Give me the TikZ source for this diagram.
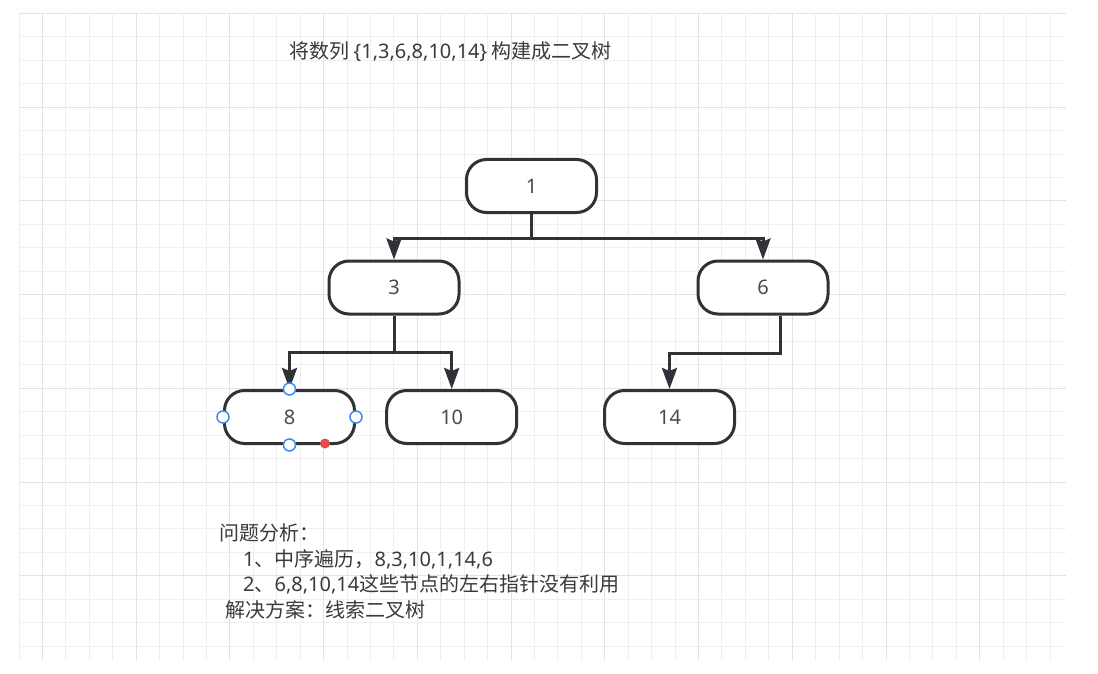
\documentclass[tikz,border=0pt]{standalone}
\usepackage{fontspec}
\setmainfont{Noto Sans CJK SC}
\newfontfamily\latfont{Noto Sans}
\newcommand{\lt}[1]{{\latfont #1}}
\usetikzlibrary{arrows.meta}
\definecolor{gminor}{HTML}{EFEFEF}
\definecolor{gmajor}{HTML}{E3E3E3}
\definecolor{ink}{HTML}{2F3236}
\definecolor{txt}{HTML}{3A3A3A}
\definecolor{ntxt}{HTML}{4A4A4A}
\definecolor{hblue}{HTML}{3B8BF0}
\definecolor{hred}{HTML}{E84A4A}
\tikzset{
  treenode/.style={draw=ink, line width=3pt, rounded corners=20pt, fill=white,
    minimum width=130pt, minimum height=53pt, inner sep=0pt, text=ntxt,
    font=\latfont\fontsize{20}{24}\selectfont},
  link/.style={draw=ink, line width=3pt, -{Stealth[length=21pt,width=15pt,inset=3pt]}},
  handle/.style={circle, draw=hblue, line width=1.5pt, fill=white, minimum size=12pt, inner sep=0pt},
  hdot/.style={circle, fill=hred, minimum size=10pt, inner sep=0pt},
  label/.style={anchor=west, inner sep=0pt, text=txt, font=\fontsize{20}{24}\selectfont}
}
\begin{document}
\begin{tikzpicture}[x=1pt, y=-1pt]
\useasboundingbox (0,0) rectangle (1098,674);
\fill[white] (0,0) rectangle (1098,674);
% grid
\foreach \i in {0,...,44} {
  \pgfmathsetmacro{\xx}{round(18.6+\i*23.43)+0.5}
  \draw[gminor, line width=1.3pt] (\xx,13) -- (\xx,660);
}
\foreach \j in {0,...,27} {
  \pgfmathsetmacro{\yy}{round(13+\j*23.43)+0.5}
  \draw[gminor, line width=1.3pt] (18.6,\yy) -- (1066,\yy);
}
\foreach \i in {1,5,...,41} {
  \pgfmathsetmacro{\xx}{round(18.6+\i*23.43)+0.5}
  \draw[gmajor, line width=1.5pt] (\xx,13) -- (\xx,660);
}
\foreach \j in {0,4,...,27} {
  \pgfmathsetmacro{\yy}{round(13+\j*23.43)+0.5}
  \draw[gmajor, line width=1.5pt] (18.6,\yy) -- (1066,\yy);
}
% title
\node[label, anchor=center] (title) at (450.5,52) {将数列 \lt{\{1,3,6,8,10,14\}} 构建成二叉树};
% tree nodes
\node[treenode] (n1) at (531.5,186) {1};
\node[treenode] (n3) at (394,287.5) {3};
\node[treenode] (n6) at (763,287.5) {6};
\node[treenode] (n8) at (289.5,417) {8};
\node[treenode] (n10) at (451.7,417) {10};
\node[treenode] (n14) at (669.5,417) {14};
% connectors
\draw[link] (n1.south) -- ++(0,24) -| (n3.north);
\draw[link] (n1.south) -- ++(0,24) -| (n6.north);
\draw[link] (n3.south) -- ++(0,37) -| (n8.north);
\draw[link] (n3.south) -- ++(0,37) -| (n10.north);
\draw[link] ([xshift=17pt]n6.south) -- ++(0,37.5) -| (n14.north);
% selection handles on node 8
\node[handle] (h1) at (n8.north) {};
\node[handle] (h2) at (n8.west) {};
\node[handle] (h3) at (n8.east) {};
\node[handle] (h4) at (n8.south) {};
\node[hdot] (h5) at (325,443.5) {};
% analysis text
\node[label] (t1) at (219,533) {问题分析：};
\node[label] (t2) at (243,559) {\lt{1}、中序遍历，\lt{8,3,10,1,14,6}};
\node[label] (t3) at (243,584.5) {\lt{2}、\lt{6,8,10,14}这些节点的左右指针没有利用};
\node[label] (t4) at (225,610) {解决方案：线索二叉树};
\end{tikzpicture}
\end{document}
